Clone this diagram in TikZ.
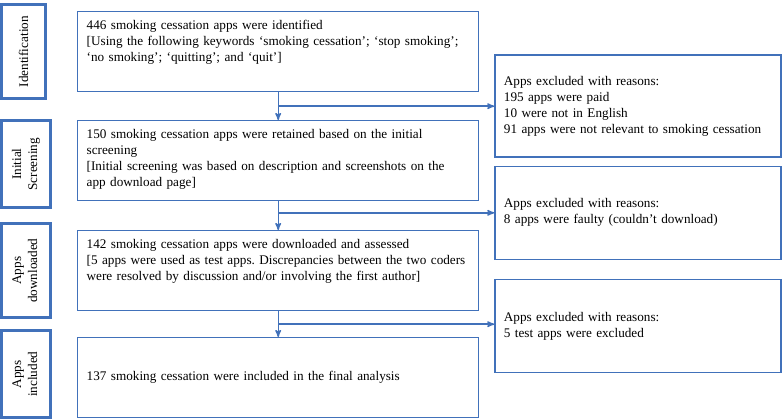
\documentclass[tikz,border=0pt]{standalone}
\usepackage{fontspec}
\setmainfont{Liberation Serif}
\usepackage{graphicx}
\usetikzlibrary{arrows,positioning}
\definecolor{flowblue}{RGB}{65,113,186}
\newcommand{\toptext}[1]{\vbox to 62pt{#1\vss}}
\frenchspacing
\tikzset{
    %Define standard arrow tip
    >=stealth',
    %Define style for the main boxes
    flowbox/.style={
           rectangle,
           draw=flowblue, line width=1.4pt,
           text width=383pt,
           minimum height=80pt,
           inner xsep=9pt, inner ysep=9pt,
           align=left},
    %Define style for the excluded boxes
    exclbox/.style={
           rectangle,
           draw=flowblue, line width=1.4pt,
           text width=268pt,
           inner xsep=9pt,
           align=left},
    %Define style for the stage labels
    stagebox/.style={
           rectangle,
           draw=flowblue, line width=3pt,
           minimum width=49pt,
           minimum height=87pt,
           align=center},
    % Define arrow style
    pil/.style={
           ->,
           draw=flowblue,
           line width=1.4pt}
}
\begin{document}
\begin{tikzpicture}[font=\fontsize{13.2}{16}\selectfont]
\useasboundingbox (0,0) rectangle (782pt,-419pt);

 %nodes
\node[flowbox, anchor=north west] (ident) at (77pt,-11pt) {\toptext{446 smoking cessation apps were identified\\{}[Using the following keywords ‘smoking cessation’; ‘stop smoking’;\\ ‘no smoking’; ‘quitting’; and ‘quit’]}};
\node[flowbox, below=27.6pt of ident] (screen) {\toptext{150 smoking cessation apps were retained based on the initial\\ screening\\{}[Initial screening was based on description and screenshots on the\\ app download page]}};
\node[flowbox, below=28.6pt of screen] (down) {\toptext{142 smoking cessation apps were downloaded and assessed\\{}[5 apps were used as test apps. Discrepancies between the two coders\\ were resolved by discussion and/or involving the first author]}};
\node[flowbox, below=25.6pt of down] (incl) {137 smoking cessation were included in the final analysis};

\path (ident.south) -- (screen.north) coordinate[midway] (b1);
\path (screen.south) -- (down.north) coordinate[pos=0.4] (b2);
\path (down.south) -- (incl.north) coordinate[midway] (b3);

\node[exclbox, minimum height=102pt, right=216pt of b1] (excl1) {Apps excluded with reasons:\\ 195 apps were paid\\ 10 were not in English\\ 91 apps were not relevant to smoking cessation};
\node[exclbox, minimum height=93pt, right=216pt of b2] (excl2) {Apps excluded with reasons:\\ 8 apps were faulty (couldn’t download)};
\node[exclbox, minimum height=93pt, right=216pt of b3, yshift=-2pt] (excl3) {Apps excluded with reasons:\\ 5 test apps were excluded};

\node[stagebox, minimum width=44pt, minimum height=94pt, left=30pt of ident] (sident) {\rotatebox{90}{Identification}};
\node[stagebox, left=25pt of screen, yshift=-3.5pt] (sscreen) {\rotatebox{90}{\begin{tabular}{@{}c@{}}Initial\\Screening\end{tabular}}};
\node[stagebox, minimum height=94pt, left=25pt of down] (sdown) {\rotatebox{90}{\begin{tabular}{@{}c@{}}Apps\\downloaded\end{tabular}}};
\node[stagebox, left=25pt of incl, yshift=3.5pt] (sincl) {\rotatebox{90}{\begin{tabular}{@{}c@{}}Apps\\included\end{tabular}}};

 %arrows
\draw[pil] (ident.south) -- (screen.north);
\draw[pil] (screen.south) -- (down.north);
\draw[pil] (down.south) -- (incl.north);
\draw[pil] (b1) -- (excl1.west);
\draw[pil] (b2) -- (excl2.west);
\draw[pil] (b3) -- (b3 -| excl3.west);
\end{tikzpicture}
\end{document}
